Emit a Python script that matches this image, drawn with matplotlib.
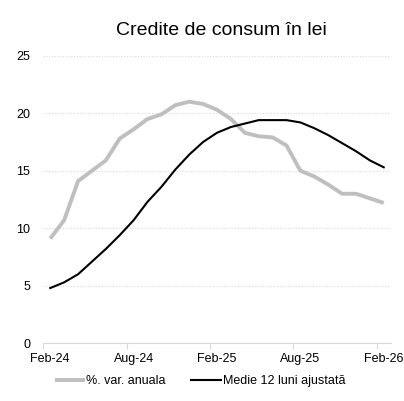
import numpy as np
import matplotlib
matplotlib.use("Agg")
import matplotlib.pyplot as plt

plt.rcParams['font.family'] = ['Liberation Sans', 'DejaVu Sans']

# luni Feb-24 .. Feb-26
months = ["Feb-24", "Mar-24", "Apr-24", "May-24", "Jun-24", "Jul-24", "Aug-24",
          "Sep-24", "Oct-24", "Nov-24", "Dec-24", "Jan-25", "Feb-25", "Mar-25",
          "Apr-25", "May-25", "Jun-25", "Jul-25", "Aug-25", "Sep-25", "Oct-25",
          "Nov-25", "Dec-25", "Jan-26", "Feb-26"]

var_anuala = [9.1, 10.7, 14.1, 15.0, 15.9, 17.8, 18.6, 19.5, 19.9, 20.7, 21.0, 20.8,
              20.3, 19.5, 18.3, 18.0, 17.9, 17.2, 15.0, 14.5, 13.8, 13.0, 13.0, 12.6, 12.2]
medie_12 = [4.8, 5.3, 6.0, 7.1, 8.2, 9.4, 10.7, 12.3, 13.6, 15.1, 16.4, 17.5,
            18.3, 18.8, 19.1, 19.4, 19.4, 19.4, 19.2, 18.7, 18.1, 17.4, 16.7, 15.9, 15.3]

tick_labels = ["Feb-24", "Aug-24", "Feb-25", "Aug-25", "Feb-26"]

fig = plt.figure(figsize=(4.04, 4.01), dpi=100)
ax = fig.add_axes([43.3 / 404, 1 - 343.3 / 401, 347.4 / 404, 287.6 / 401])

x = np.arange(len(months)) + 0.5
ax.plot(x, var_anuala, color="#bfbfbf", lw=2.8, label="%. var. anuala", solid_capstyle="butt")
ax.plot(x, medie_12, color="black", lw=1.5, label="Medie 12 luni ajustată")

ax.set_xlim(0, len(months))
ax.set_ylim(0, 25)
ax.set_yticks([0, 5, 10, 15, 20, 25])

# tick marks at category edges, labels at category centres
idx = [months.index(m) for m in tick_labels]
ax.set_xticks(idx)
ax.set_xticklabels([])
ax.set_xticks([i + 0.5 for i in idx], minor=True)
ax.set_xticklabels(tick_labels, minor=True)

for y in [5, 10, 15, 20, 25]:
    ax.axhline(y, color="#d9d9d9", lw=0.8, ls=(0, (1, 1.5)), zorder=0)

for s in ["top", "right", "left"]:
    ax.spines[s].set_visible(False)
ax.spines["bottom"].set_color("#d9d9d9")
ax.tick_params(axis="y", length=0, labelsize=9, pad=9.5)
ax.tick_params(axis="x", which="major", length=4, color="#d9d9d9")
ax.tick_params(axis="x", which="minor", length=0, labelsize=9, pad=7)

fig.text(221 / 404, 1 - 35 / 401, "Credite de consum în lei", ha="center", va="baseline", fontsize=14)

fig.legend(loc="center", bbox_to_anchor=(200 / 404, 1 - 381 / 401), ncol=2, frameon=False,
           fontsize=9, handlelength=2.4, handletextpad=0.15, columnspacing=2.0)

fig.savefig("out.png", dpi=100)
